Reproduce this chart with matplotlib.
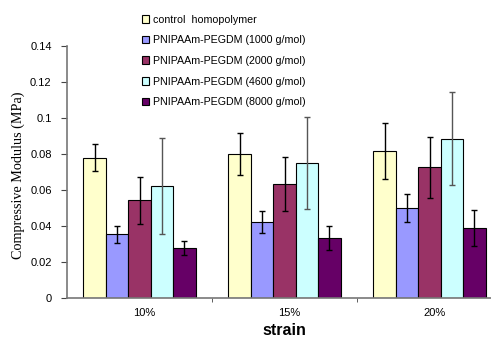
import numpy as np
import matplotlib
matplotlib.use("Agg")
import matplotlib.pyplot as plt
import matplotlib.transforms as mtransforms

# Dados
categorias = ["10%", "15%", "20%"]
series = ["control  homopolymer",
          "PNIPAAm-PEGDM (1000 g/mol)",
          "PNIPAAm-PEGDM (2000 g/mol)",
          "PNIPAAm-PEGDM (4600 g/mol)",
          "PNIPAAm-PEGDM (8000 g/mol)"]
controle = [0.078, 0.080, 0.0815]
peg1000 = [0.0353, 0.0421, 0.050]
peg2000 = [0.0543, 0.0634, 0.0727]
peg4600 = [0.0621, 0.0751, 0.0885]
peg8000 = [0.0277, 0.0333, 0.0389]
err_controle = [0.0077, 0.0117, 0.0155]
err_1000 = [0.0049, 0.006, 0.008]
err_2000 = [0.013, 0.015, 0.017]
err_4600 = [0.0267, 0.0255, 0.0257]
err_8000 = [0.004, 0.0065, 0.0101]

valores = [controle, peg1000, peg2000, peg4600, peg8000]
erros = [err_controle, err_1000, err_2000, err_4600, err_8000]
cores = ["#FFFFCC", "#9999FF", "#993366", "#CCFFFF", "#660066"]
cores_erro = ["black", "black", "black", "#555555", "black"]

plt.rcParams["font.family"] = ["Liberation Sans", "DejaVu Sans"]

fig = plt.figure(figsize=(4.91, 3.39), dpi=100)
ax = fig.add_axes([67 / 491, 41 / 339, 435 / 491, 252 / 339])

x = np.arange(len(categorias))
largura = 0.155
for i, (v, e, c, ce) in enumerate(zip(valores, erros, cores, cores_erro)):
    pos = x + (i - 2) * largura
    ax.bar(pos, v, largura, color=c, edgecolor="black", linewidth=0.8,
           label=series[i], zorder=2)
    ax.errorbar(pos, v, yerr=e, fmt="none", ecolor=ce, elinewidth=1.0,
                capsize=2, capthick=1.0, zorder=3)

ax.set_xlim(-0.5, 2.5)
ax.set_ylim(0, 0.14)
ax.set_yticks(np.arange(0, 0.141, 0.02))
ax.set_yticklabels(["0", "0.02", "0.04", "0.06", "0.08", "0.1", "0.12", "0.14"],
                   fontsize=8)
ax.set_xticks(x)
ax.set_xticklabels(categorias, fontsize=8)
ax.tick_params(axis="x", length=0, pad=7)
# rótulos do eixo x levemente deslocados para a direita, como no original
desloc = mtransforms.ScaledTranslation(5 / 100, 0, fig.dpi_scale_trans)
for lbl in ax.get_xticklabels():
    lbl.set_transform(lbl.get_transform() + desloc)
ax.set_xticks([0.5, 1.5, 2.5], minor=True)
ax.tick_params(axis="x", which="minor", length=3, color="#444444")
ax.tick_params(axis="y", length=4, color="#444444", pad=7)

for lado in ["top", "right"]:
    ax.spines[lado].set_visible(False)
for lado in ["left", "bottom"]:
    ax.spines[lado].set_color("#777777")
    ax.spines[lado].set_linewidth(1.2)

ax.set_ylabel("Compressive Modulus (MPa)", family="Liberation Serif",
              fontsize=10.2, labelpad=6)
ax.yaxis.set_label_coords(-0.097, 0.486)
ax.set_xlabel("strain", fontsize=11.5, fontweight="bold", labelpad=4)

leg = ax.legend(loc="upper left", bbox_to_anchor=(0.150, 1.163), frameon=False,
                fontsize=7.7, handlelength=0.7, handleheight=0.7,
                handletextpad=0.3, labelspacing=1.0)

fig.savefig("out.png", dpi=100)
